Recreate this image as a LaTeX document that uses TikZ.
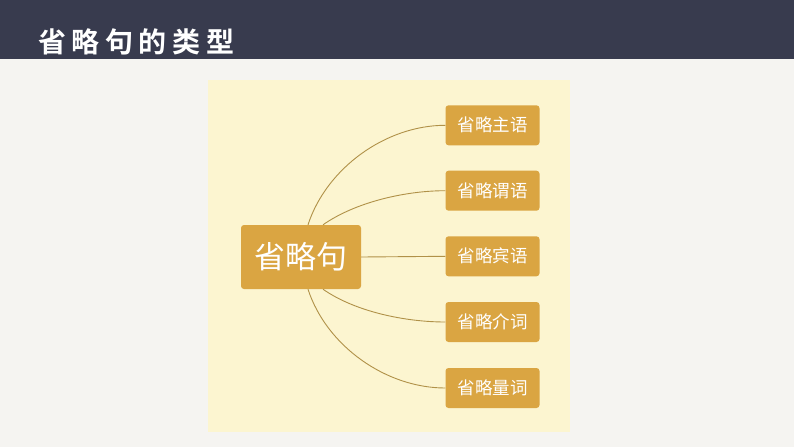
\documentclass[tikz,border=0pt]{standalone}
\usepackage{fontspec}
\newfontfamily\cjk{Noto Sans CJK SC}
\newfontfamily\cjktitle[LetterSpace=20]{Noto Sans CJK SC Bold}
\usetikzlibrary{positioning}
\definecolor{pagebg}{HTML}{F5F4F1}
\definecolor{headbar}{HTML}{383B4E}
\definecolor{panelbg}{HTML}{FCF5D0}
\definecolor{boxfill}{HTML}{DAA542}
\definecolor{linkcol}{HTML}{B09148}
\begin{document}
\begin{tikzpicture}[
    x=1pt, y=-1pt,
    rootbox/.style={fill=boxfill, rounded corners=3pt, minimum width=120pt,
                    minimum height=64pt, text=white, font=\cjk\fontsize{31}{33}\selectfont},
    leafbox/.style={fill=boxfill, rounded corners=3pt, minimum width=94pt,
                    minimum height=40pt, text=white, font=\cjk\fontsize{17.5}{20}\selectfont},
    link/.style={draw=linkcol, line width=0.9pt},
]
  % Page and header
  \useasboundingbox (0,0) rectangle (794,447);
  \fill[pagebg] (0,0) rectangle (794,447);
  \fill[headbar] (0,0) rectangle (794,59);
  \node[anchor=west, inner sep=0pt, text=white, font=\cjktitle\fontsize{28}{30}\selectfont] (title)
    at (38,42) {省略句的类型};
  \fill[panelbg] (208,80) rectangle (570,432);

  % Root and branches
  \node[rootbox] (root) at (301,257) {省略句};
  \node[leafbox] (subj) at (492.5,125.3) {省略主语};
  \node[leafbox] (pred) at (492.5,190.7) {省略谓语};
  \node[leafbox] (obj)  at (492.5,256.3) {省略宾语};
  \node[leafbox] (prep) at (492.5,322)   {省略介词};
  \node[leafbox] (meas) at (492.5,388)   {省略量词};

  % Links
  \draw[link] ([xshift=7pt]root.north) to[out=72,in=180,looseness=0.9] (subj.west);
  \draw[link] ([xshift=22pt]root.north) to[out=35,in=180,looseness=0.8] (pred.west);
  \draw[link] (root.east) -- (obj.west);
  \draw[link] ([xshift=22pt]root.south) to[out=-35,in=180,looseness=0.8] (prep.west);
  \draw[link] ([xshift=7pt]root.south) to[out=-72,in=180,looseness=0.9] (meas.west);
\end{tikzpicture}
\end{document}
